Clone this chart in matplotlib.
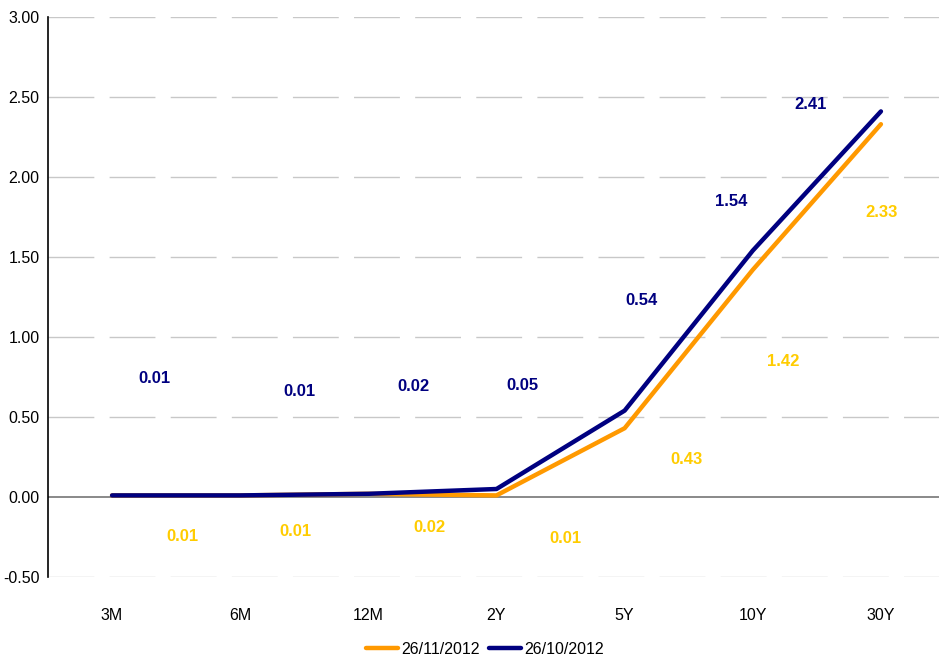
import matplotlib
matplotlib.use('Agg')
import matplotlib.pyplot as plt

plt.rcParams['font.family'] = ['Liberation Sans', 'DejaVu Sans']

tenors = ['3M', '6M', '12M', '2Y', '5Y', '10Y', '30Y']
yield_nov = [0.01, 0.01, 0.02, 0.01, 0.43, 1.42, 2.33]
yield_oct = [0.01, 0.01, 0.02, 0.05, 0.54, 1.54, 2.41]
label_nov = '26/11/2012'
label_oct = '26/10/2012'
y_ticks = [-0.5, 0.0, 0.5, 1.0, 1.5, 2.0, 2.5, 3.0]

# label offsets in pixels from each point
off_oct = [(42, 117), (59, 104), (45, 107), (26, 103), (17, 110), (-22, 49), (-70, 7)]
off_nov = [(70, -41), (55, -36), (61, -34), (69, -43), (62, -31), (30, -92), (1, -88)]

W, H = 939, 660
fig = plt.figure(figsize=(W / 100, H / 100), dpi=100)
ax = fig.add_axes([48 / W, 1 - 577 / H, (945 - 48) / W, (577 - 17) / H])

x = list(range(len(tenors)))
ax.plot(x, yield_nov, color='#FF9900', lw=3.2, solid_capstyle='round', label=label_nov, zorder=3)
ax.plot(x, yield_oct, color='#000080', lw=3.2, solid_capstyle='round', label=label_oct, zorder=4)

for i in x:
    ax.annotate('%.2f' % yield_oct[i], (i, yield_oct[i]), xytext=off_oct[i],
                textcoords='offset pixels', ha='center', va='center',
                color='#000080', fontsize=12, fontweight='bold')
    ax.annotate('%.2f' % yield_nov[i], (i, yield_nov[i]), xytext=off_nov[i],
                textcoords='offset pixels', ha='center', va='center',
                color='#FFCC00', fontsize=12, fontweight='bold')

ax.set_xlim(-0.5, 6.5)
ax.set_ylim(-0.5, 3.0)
ax.set_yticks(y_ticks)
ax.set_yticklabels(['%.2f' % v for v in y_ticks])
ax.set_xticks(x)
ax.set_xticklabels(tenors)
ax.tick_params(axis='both', length=0, labelsize=11.5)
ax.tick_params(axis='x', pad=22)
ax.tick_params(axis='y', pad=6)

for v in y_ticks:
    if v != 0:
        ax.axhline(v, color='#C8C8C8', lw=1, dashes=(33, 11), zorder=1)
ax.axhline(0, color='#808080', lw=1.3, zorder=2)

for s in ['top', 'right', 'bottom']:
    ax.spines[s].set_visible(False)
ax.spines['left'].set_color('black')
ax.spines['left'].set_linewidth(1.2)

fig.legend(loc='center', bbox_to_anchor=(485 / W, 1 - 649 / H), ncol=2, frameon=False,
           fontsize=11.5, handlelength=2.0, columnspacing=0.6, handletextpad=0.2)

fig.savefig('out.png', dpi=100)
